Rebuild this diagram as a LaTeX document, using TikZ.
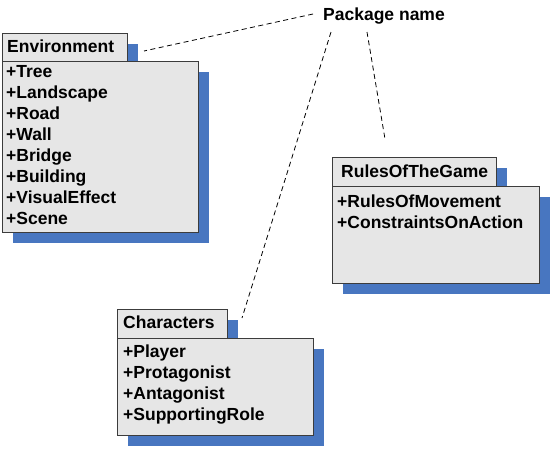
\documentclass[tikz,border=0pt]{standalone}
\usepackage{fontspec}
\setmainfont{Liberation Sans}
\usetikzlibrary{calc}
\definecolor{boxfill}{RGB}{230,230,230}
\definecolor{boxline}{RGB}{60,60,60}
\definecolor{shadowblue}{RGB}{72,118,192}
\begin{document}
\begin{tikzpicture}[x=1pt,y=-1pt,
  box/.style={draw=boxline, fill=boxfill, line width=1.2pt, rectangle, inner sep=0pt, anchor=north west},
  shadowbox/.style={fill=shadowblue, draw=none, rectangle, inner sep=0pt, anchor=north west},
  lbl/.style={font=\fontsize{17.5}{21}\selectfont\bfseries, inner sep=0pt, anchor=base west, text=black},
  leader/.style={draw=black, line width=0.8pt, dash pattern=on 5pt off 3.5pt}
]
\useasboundingbox (0,0) rectangle (552,448);

% ---------- Environment ----------
\node[shadowbox, minimum width=125, minimum height=28] (envts) at (13,44) {};
\node[shadowbox, minimum width=196, minimum height=171] (envbs) at (13,72) {};
\node[box, minimum width=196, minimum height=171] (envb) at (2,61) {};
\node[box, minimum width=125, minimum height=28] (envt) at (2,33) {};
\node[lbl] (envtitle) at (7,52) {Environment};
\foreach \t [count=\i] in {Tree,Landscape,Road,Wall,Bridge,Building,VisualEffect,Scene}{
  \node[lbl] (env\i) at (6,{56+21*\i}) {+\t};
}

% ---------- RulesOfTheGame ----------
\node[shadowbox, minimum width=164, minimum height=29] (rults) at (343,168) {};
\node[shadowbox, minimum width=207, minimum height=97] (rulbs) at (343,197) {};
\node[box, minimum width=207, minimum height=97] (rulb) at (332,186) {};
\node[box, minimum width=164, minimum height=29] (rult) at (332,157) {};
\node[lbl] (rultitle) at (341,177) {RulesOfTheGame};
\node[lbl] (rul1) at (337,207) {+RulesOfMovement};
\node[lbl] (rul2) at (337,228) {+ConstraintsOnAction};

% ---------- Characters ----------
\node[shadowbox, minimum width=110, minimum height=29] (chrts) at (128,320) {};
\node[shadowbox, minimum width=196, minimum height=97] (chrbs) at (128,349) {};
\node[box, minimum width=196, minimum height=97] (chrb) at (117,338) {};
\node[box, minimum width=110, minimum height=29] (chrt) at (117,309) {};
\node[lbl] (chrtitle) at (123,328.5) {Characters};
\foreach \t [count=\i] in {Player,Protagonist,Antagonist,SupportingRole}{
  \node[lbl] (chr\i) at (123,{336+21*\i}) {+\t};
}

% ---------- Package name ----------
\node[lbl] (pkg) at (323,20) {Package name};
\coordinate (pa) at (313,14);
\coordinate (pb) at (331,32);
\coordinate (pc) at (367,32);
\coordinate (ea) at (144,51);
\coordinate (eb) at (242,318);
\coordinate (ec) at (385,139);
\draw[leader] (pa) -- (ea);
\draw[leader] (pb) -- (eb);
\draw[leader] (pc) -- (ec);
\end{tikzpicture}
\end{document}
